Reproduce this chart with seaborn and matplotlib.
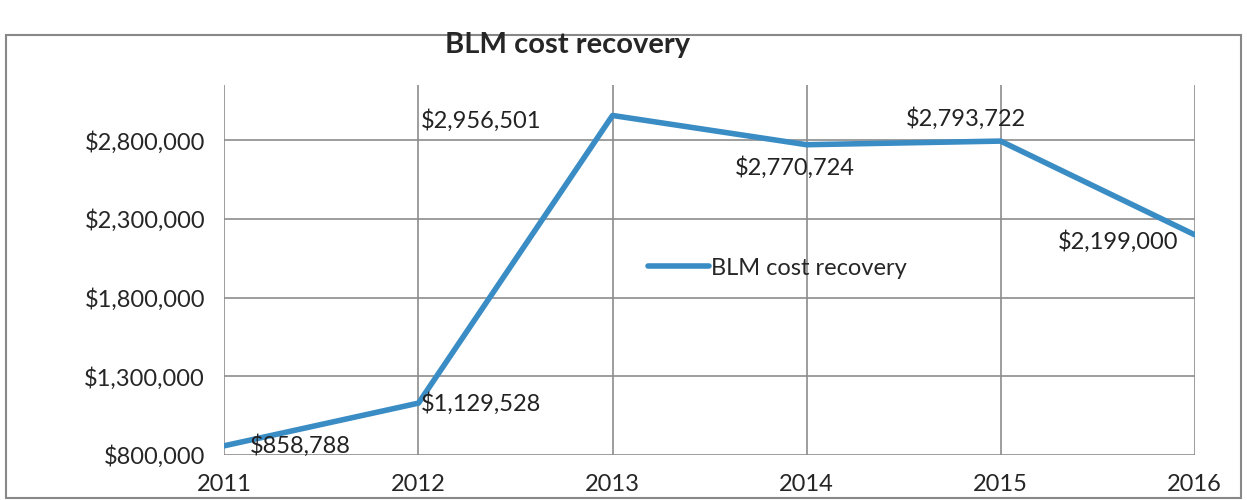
import pandas as pd
import numpy as np
import seaborn as sns
import matplotlib.pyplot as plt
from matplotlib.patches import Rectangle
from matplotlib.ticker import FuncFormatter

#--Data
years = ['2011', '2012', '2013', '2014', '2015', '2016']
cost_recovery = [858788, 1129528, 2956501, 2770724, 2793722, 2199000]
y_ticks = [800000, 1300000, 1800000, 2300000, 2800000]

df = pd.DataFrame({'year': years, 'BLM cost recovery': cost_recovery})
df['pos'] = np.arange(len(df))

sns.set_style('white')
plt.rcParams['font.family'] = ['Lato', 'DejaVu Sans']

fig = plt.figure(figsize=(12.47, 5), dpi=100)
ax = fig.add_axes([0.18, 0.09, 0.778, 0.74])

sns.lineplot(data=df, x='pos', y='BLM cost recovery', ax=ax, color='#3a8cc4',
             linewidth=4, label='BLM cost recovery', legend=False)

#Axes setup
ax.set_xlim(0, len(years) - 1)
ax.set_ylim(800000, 3150000)
ax.set_xticks(df['pos'])
ax.set_xticklabels(years, fontsize=17)
ax.set_yticks(y_ticks)
ax.yaxis.set_major_formatter(FuncFormatter(lambda v, p: '${:,.0f}'.format(v)))
ax.tick_params(axis='y', labelsize=17, length=6, color='#888888', pad=8)
ax.tick_params(axis='x', length=0, pad=14)
ax.grid(True, color='#8c8c8c', linewidth=1.2)
ax.set_xlabel('')
ax.set_ylabel('')
for s in ax.spines.values():
    s.set_visible(False)

#Data labels (offsets in pixels, left edge / vertical centre)
offsets = [(25, 0), (2, 0), (-192, -5), (-72, -23), (-95, 23), (-137, -7)]
for (px, val), (dx, dy) in zip(zip(df['pos'], df['BLM cost recovery']), offsets):
    ax.annotate('${:,.0f}'.format(val), (px, val), xytext=(dx * 0.72, dy * 0.72),
                textcoords='offset points', fontsize=17, color='#222222',
                ha='left', va='center')

#Legend in middle of plot
ax.legend(loc='center', bbox_to_anchor=(0.57, 0.505), frameon=False, fontsize=17,
          handlelength=2.6, handletextpad=0.1)

fig.suptitle('BLM cost recovery', x=0.455, y=0.935, fontsize=21, fontweight='bold')

#Outer chart border
fig.patches.append(Rectangle((0.005, 0.005), 0.99, 0.925, transform=fig.transFigure,
                             fill=False, edgecolor='#888888', linewidth=1.5))

fig.savefig('out.png', dpi=100)
